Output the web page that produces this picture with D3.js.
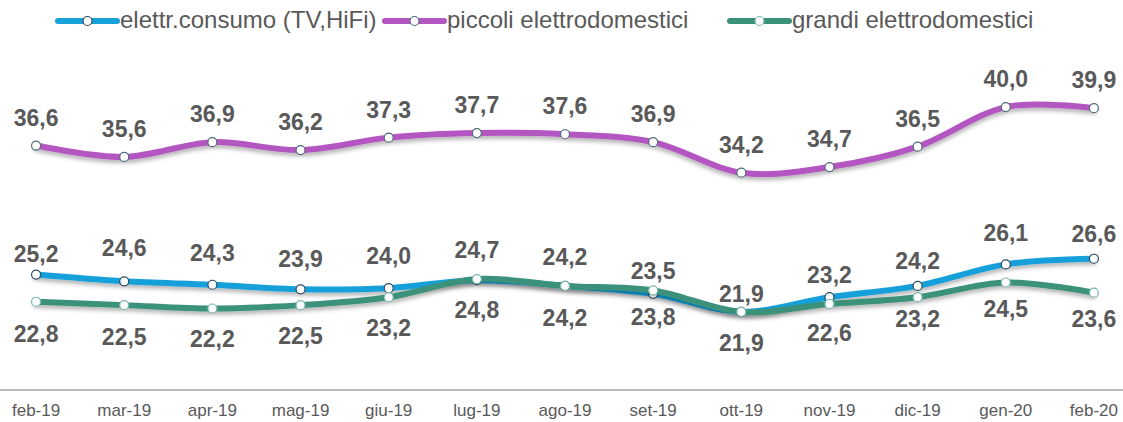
<!DOCTYPE html>
<html>
<head>
<meta charset="utf-8">
<script src="https://cdn.jsdelivr.net/npm/d3@7"></script>
<style>
  body { margin: 0; background: #fff; }
  text { font-family: "Liberation Sans", Arial, sans-serif; }
</style>
</head>
<body>
<div id="chart"></div>
<script>
const months = ["feb-19", "mar-19", "apr-19", "mag-19", "giu-19", "lug-19", "ago-19", "set-19", "ott-19", "nov-19", "dic-19", "gen-20", "feb-20"];
const elettrConsumo = [25.2, 24.6, 24.3, 23.9, 24.0, 24.7, 24.2, 23.5, 21.9, 23.2, 24.2, 26.1, 26.6];
const piccoliElettro = [36.6, 35.6, 36.9, 36.2, 37.3, 37.7, 37.6, 36.9, 34.2, 34.7, 36.5, 40.0, 39.9];
const grandiElettro = [22.8, 22.5, 22.2, 22.5, 23.2, 24.8, 24.2, 23.8, 21.9, 22.6, 23.2, 24.5, 23.6];

// label gap from the point (Excel labels were nudged by hand), + = above
const gapBlue = [21, 33, 32, 30, 32, 30, 29, 23, 18, 22, 25, 31, 25];
const gapPurple = [28, 28, 28, 28, 28, 28, 28, 28, 28, 28, 28, 28, 28];
const gapGreen = [-32, -32, -30, -31, -31, -31, -32, -27, -31, -29, -22, -26, -26];

const series = [
  { name: "elettr.consumo (TV,HiFi)", values: elettrConsumo, color: "#18a0da", marker: "#2b4a5e", gap: gapBlue },
  { name: "piccoli elettrodomestici", values: piccoliElettro, color: "#b456c2", marker: "#4d6b78", gap: gapPurple },
  { name: "grandi elettrodomestici", values: grandiElettro, color: "#3a917a", marker: "#7ab8b0", gap: gapGreen }
];

const width = 1123, height = 422;
const plot = { left: -8, right: 1138, top: 50.5, bottom: 390 };

const svg = d3.select("#chart").append("svg")
  .attr("width", width)
  .attr("height", height);

const defs = svg.append("defs");
const shadow = defs.append("filter").attr("id", "shadow")
  .attr("x", "-5%").attr("y", "-50%").attr("width", "110%").attr("height", "200%");
shadow.append("feDropShadow")
  .attr("dx", 0).attr("dy", 3).attr("stdDeviation", 2)
  .attr("flood-color", "#000").attr("flood-opacity", 0.3);

const x = d3.scaleBand().domain(months).range([plot.left, plot.right]);
const y = d3.scaleLinear().domain([15, 45]).range([plot.bottom, plot.top]);
const cx = d => x(d) + x.bandwidth() / 2;

// x axis
const xAxis = svg.append("g")
  .attr("transform", `translate(0,${plot.bottom})`)
  .call(d3.axisBottom(x).tickSize(0).tickPadding(14));
xAxis.select(".domain").remove();
xAxis.selectAll("text")
  .attr("font-size", 17)
  .attr("fill", "#595959")
  .attr("font-family", "Liberation Sans, Arial, sans-serif");
svg.append("line")
  .attr("x1", 0).attr("x2", width)
  .attr("y1", plot.bottom).attr("y2", plot.bottom)
  .attr("stroke", "#a6a6a6").attr("stroke-width", 1.5);

const line = d3.line()
  .x((d, i) => cx(months[i]))
  .y(d => y(d))
  .curve(d3.curveCardinal.tension(0));

// draw order: purple, blue, green on top
[series[1], series[0], series[2]].forEach(s => {
  const g = svg.append("g");
  g.append("path")
    .datum(s.values)
    .attr("d", line)
    .attr("fill", "none")
    .attr("stroke", s.color)
    .attr("stroke-width", 6)
    .attr("stroke-linecap", "round")
    .attr("filter", "url(#shadow)");
  g.selectAll("circle")
    .data(s.values)
    .enter()
    .append("circle")
    .attr("cx", (d, i) => cx(months[i]))
    .attr("cy", d => y(d))
    .attr("r", 4.5)
    .attr("fill", "#fff")
    .attr("stroke", s.marker)
    .attr("stroke-width", 1.2);
});

// data labels
series.forEach(s => {
  svg.append("g").selectAll("text")
    .data(s.values)
    .enter()
    .append("text")
    .attr("x", (d, i) => cx(months[i]))
    .attr("y", (d, i) => y(d) - s.gap[i])
    .attr("dy", "0.35em")
    .attr("text-anchor", "middle")
    .attr("font-size", 23)
    .attr("font-weight", "bold")
    .attr("fill", "#595959")
    .text(d => d3.format(".1f")(d).replace(".", ","));
});

// legend
const legendX = [58, 385, 730];
series.forEach((s, i) => {
  const lg = svg.append("g").attr("transform", `translate(${legendX[i]},21)`);
  lg.append("line")
    .attr("x1", 0).attr("x2", 59)
    .attr("y1", 0).attr("y2", 0)
    .attr("stroke", s.color)
    .attr("stroke-width", 6)
    .attr("stroke-linecap", "round");
  lg.append("circle")
    .attr("cx", 29.5).attr("cy", 0).attr("r", 4.5)
    .attr("fill", "#fff")
    .attr("stroke", s.marker)
    .attr("stroke-width", 1.2);
  lg.append("text")
    .attr("x", 62).attr("y", -1)
    .attr("dy", "0.35em")
    .attr("font-size", 24)
    .attr("fill", "#595959")
    .text(s.name);
});
</script>
</body>
</html>
